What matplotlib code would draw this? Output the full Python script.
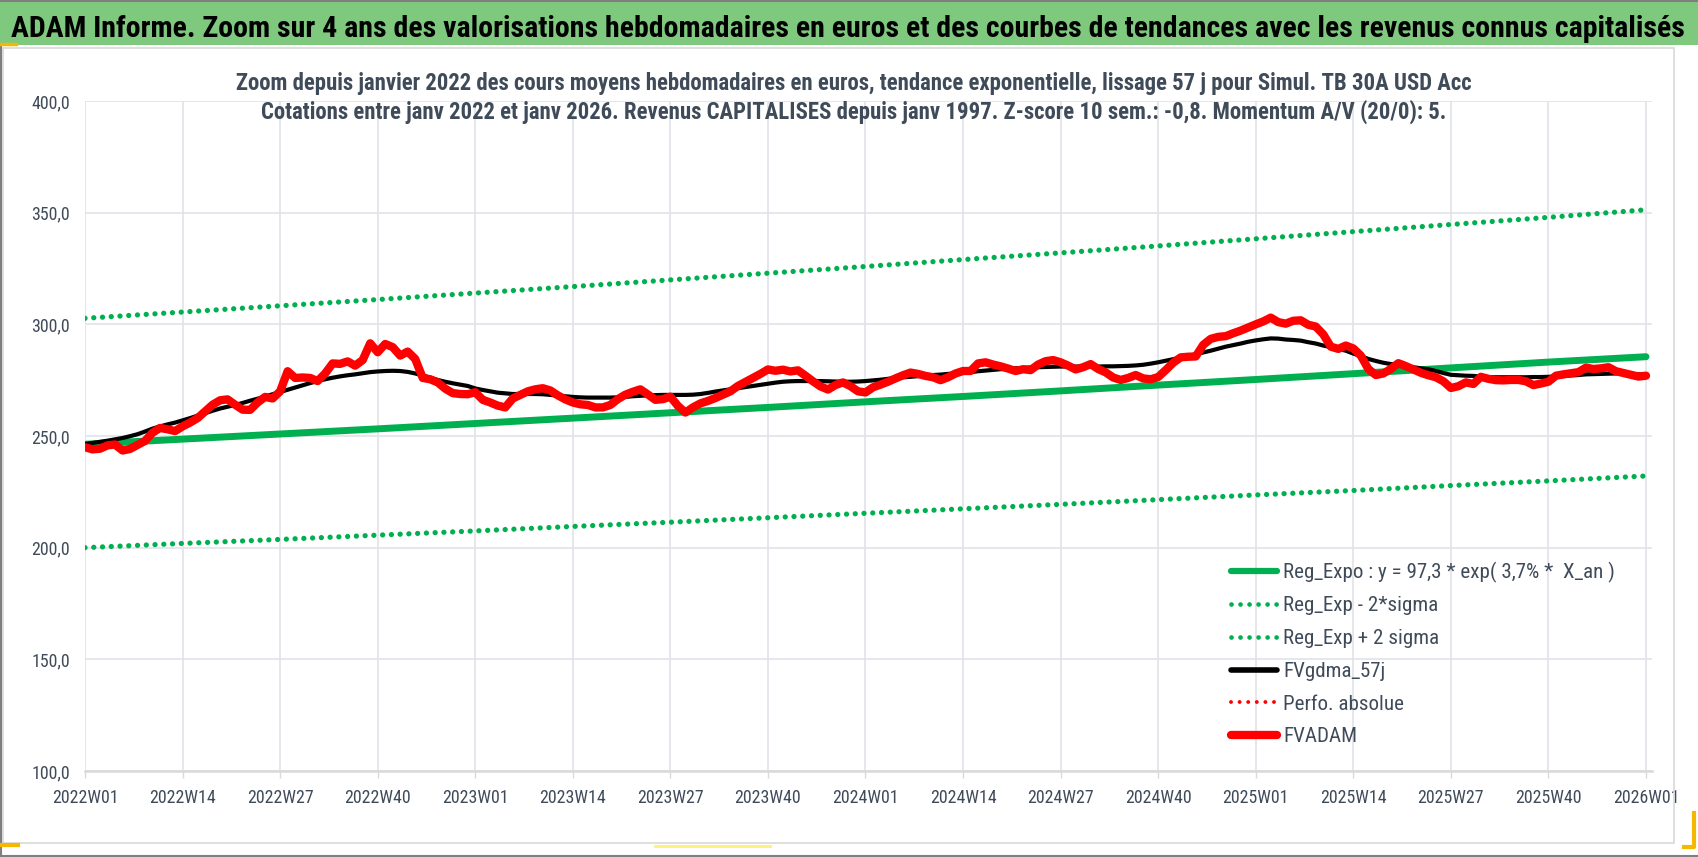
import numpy as np
import matplotlib
matplotlib.use('Agg')
import matplotlib.pyplot as plt
from matplotlib import font_manager as fm
from matplotlib.lines import Line2D
from matplotlib.patches import Rectangle

# data: weekly values, one row = 13 weeks (one tick step)
fvadam = [
    245.0, 244.0, 244.3, 245.8, 246.2, 243.5, 244.2, 246.0, 247.8, 251.5, 253.6, 253.0, 252.2,
    254.3, 256.0, 258.0, 261.0, 264.0, 266.0, 266.4, 264.0, 261.8, 261.7, 265.0, 267.5, 266.8,
    270.0, 279.0, 276.0, 276.2, 276.0, 274.6, 278.0, 282.5, 282.3, 283.4, 281.5, 284.0, 291.5,
    287.5, 291.2, 289.8, 286.0, 287.8, 284.5, 276.0, 275.4, 274.0, 271.2, 269.2, 268.8, 268.7,
    269.6, 266.2, 265.0, 263.6, 262.8, 266.8, 268.4, 270.0, 270.9, 271.4, 270.4, 268.2, 266.4,
    265.0, 264.2, 263.9, 262.8, 262.8, 263.9, 266.5, 268.5, 269.8, 270.9, 268.6, 266.2, 266.5,
    267.6, 263.5, 260.5, 262.8, 264.6, 265.7, 267.0, 268.5, 270.0, 272.4, 274.2, 276.0, 277.8,
    279.8, 279.2, 279.7, 278.9, 279.4, 277.0, 274.5, 272.2, 270.8, 272.8, 274.0, 272.3, 270.0,
    269.5, 271.8, 273.0, 274.3, 275.8, 277.2, 278.4, 277.8, 276.9, 276.3, 275.0, 276.3, 278.0,
    279.1, 279.1, 282.5, 283.0, 282.0, 281.2, 280.2, 279.1, 279.9, 279.5, 282.0, 283.5, 284.0,
    283.0, 281.5, 279.8, 280.8, 282.2, 280.0, 278.5, 276.2, 275.1, 276.0, 277.3, 275.8, 275.4,
    276.4, 279.5, 282.8, 285.2, 285.5, 285.6, 290.8, 293.5, 294.4, 294.7, 296.0, 297.2, 298.6,
    300.0, 301.3, 303.0, 301.0, 300.3, 301.6, 301.8, 299.8, 299.0, 295.5, 290.0, 289.0, 290.5,
    289.2, 286.0, 280.0, 277.3, 278.0, 280.0, 282.6, 281.3, 279.8, 278.3, 277.2, 276.3, 274.5,
    271.5, 272.3, 274.0, 273.3, 276.5, 275.6, 275.0, 274.9, 275.1, 275.1, 274.5, 272.8, 273.5,
    274.3, 277.0, 277.6, 278.1, 278.6, 280.6, 280.0, 280.3, 280.8, 279.0, 278.2, 277.4, 276.6,
    277.0,
]

fvgdma_57j = [
    246.4, 246.9, 247.4, 247.9, 248.5, 249.1, 249.9, 250.8, 252.0, 253.3, 254.3, 255.2, 256.0,
    257.0, 258.0, 259.1, 260.2, 261.3, 262.3, 263.1, 263.9, 264.8, 265.8, 266.7, 267.7, 268.7,
    269.7, 270.7, 271.7, 272.7, 273.7, 274.6, 275.4, 276.1, 276.7, 277.2, 277.6, 278.1, 278.6,
    278.9, 279.1, 279.2, 279.1, 278.7, 278.0, 277.1, 276.1, 275.1, 274.3, 273.6, 273.0, 272.4,
    271.3, 270.6, 270.0, 269.4, 269.1, 268.8, 268.8, 268.8, 268.8, 268.7, 268.4, 268.1, 267.8,
    267.5, 267.3, 267.2, 267.2, 267.2, 267.2, 267.3, 267.5, 267.8, 268.0, 268.2, 268.3, 268.4,
    268.4, 268.4, 268.4, 268.5, 268.8, 269.3, 269.9, 270.4, 270.9, 271.4, 271.9, 272.4, 272.9,
    273.4, 273.9, 274.3, 274.5, 274.6, 274.6, 274.6, 274.6, 274.5, 274.4, 274.3, 274.3, 274.4,
    274.6, 274.9, 275.2, 275.6, 276.0, 276.3, 276.5, 276.8, 277.1, 277.3, 277.5, 277.8, 278.0,
    278.3, 278.6, 279.0, 279.3, 279.6, 279.9, 280.1, 280.3, 280.5, 280.7, 280.8, 280.9, 281.0,
    281.1, 281.1, 281.1, 281.1, 281.1, 281.1, 281.2, 281.2, 281.3, 281.4, 281.6, 281.9, 282.4,
    283.0, 283.7, 284.4, 285.1, 285.9, 286.6, 287.4, 288.2, 289.1, 290.0, 290.7, 291.4, 292.2,
    292.8, 293.3, 293.7, 293.6, 293.2, 293.0, 292.7, 292.0, 291.4, 290.5, 289.8, 289.0, 288.2,
    286.9, 285.8, 284.5, 283.6, 282.8, 282.2, 281.8, 281.3, 280.8, 280.3, 279.9, 279.1, 278.2,
    277.4, 277.2, 277.0, 276.9, 276.6, 276.3, 276.3, 276.3, 276.3, 276.3, 276.3, 276.4, 276.4,
    276.5, 276.6, 276.8, 277.1, 277.3, 277.6, 277.7, 277.8, 277.9, 278.0, 278.1, 277.9, 277.6,
    277.4,
]

# trend lines, read at each tick (every 13 weeks)
reg_expo = [246.3, 248.6, 250.9, 253.2, 255.6, 258.0, 260.4, 262.8, 265.3,
            267.7, 270.2, 272.8, 275.3, 277.9, 280.5, 283.1, 285.5]
reg_minus = [200.0, 201.9, 203.7, 205.6, 207.5, 209.5, 211.4, 213.4, 215.4,
             217.4, 219.4, 221.5, 223.6, 225.6, 227.8, 229.9, 232.1]
reg_plus = [302.7, 305.5, 308.3, 311.1, 314.0, 316.9, 319.9, 322.9, 325.9,
            329.0, 332.0, 335.1, 338.3, 341.5, 344.7, 347.9, 351.3]

tick_labels = ['2022W01', '2022W14', '2022W27', '2022W40', '2023W01', '2023W14',
               '2023W27', '2023W40', '2024W01', '2024W14', '2024W27', '2024W40',
               '2025W01', '2025W14', '2025W27', '2025W40', '2026W01']
yticks = [100, 150, 200, 250, 300, 350, 400]

title = ("ADAM Informe. Zoom sur 4 ans des valorisations hebdomadaires en euros "
         "et des courbes de tendances avec les revenus connus capitalisés")
sub1 = ("Zoom depuis janvier 2022 des cours moyens hebdomadaires en euros, tendance "
        "exponentielle, lissage 57 j pour Simul. TB 30A USD Acc")
sub2 = ("Cotations entre janv 2022 et janv 2026. Revenus CAPITALISES depuis janv 1997. "
        "Z-score 10 sem.: -0,8. Momentum A/V (20/0): 5.")
legend_labels = ['Reg_Expo : y = 97,3 * exp( 3,7% *  X_an )', 'Reg_Exp - 2*sigma',
                 'Reg_Exp + 2 sigma', 'FVgdma_57j', 'Perfo. absolue', 'FVADAM']

# pick a narrow font (Calibri look-alike) if there is one
names = {f.name for f in fm.fontManager.ttflist}
FONT = 'DejaVu Sans'
for cand in ['Liberation Sans Narrow', 'Roboto Condensed', 'Open Sans Condensed',
             'DejaVu Sans Condensed', 'Liberation Sans']:
    if cand in names:
        FONT = cand
        break

W, H = 1698, 857
fig = plt.figure(figsize=(W / 100, H / 100), dpi=100)
renderer = fig.canvas.get_renderer()

def fx(x):
    return x / W

def fy(y):
    return 1 - y / H

def fit_size(txt, target, weight='normal'):
    t = fig.text(0, 0, txt, fontsize=10, family=FONT, weight=weight)
    w = t.get_window_extent(renderer).width
    t.remove()
    return 10 * target / w

GREEN = '#00B050'
TXT = '#404B5A'
GRID = '#E0E3EA'

# frame / banner decoration
fig.patches.append(Rectangle((0, fy(45)), 1, fy(2) - fy(45), transform=fig.transFigure,
                             facecolor='#7FC97F', edgecolor='none', zorder=0))
fig.patches.append(Rectangle((fx(3), fy(843)), fx(1674) - fx(3), fy(48) - fy(843),
                             transform=fig.transFigure, facecolor='none',
                             edgecolor='#D9D9D9', lw=1.2, zorder=0))
fig.add_artist(Line2D([0, 1], [fy(0.5), fy(0.5)], color='#7F7F7F', lw=1.5))
fig.add_artist(Line2D([fx(1), fx(1)], [fy(47), fy(856)], color='#7F7F7F', lw=1.5))
fig.add_artist(Line2D([0, 1], [fy(856), fy(856)], color='#7F7F7F', lw=1.5))
fig.add_artist(Line2D([0, fx(16)], [fy(44), fy(44)], color='#F5B800', lw=2.5))
fig.add_artist(Line2D([0, fx(18)], [fy(845), fy(845)], color='#F5B800', lw=3))
fig.add_artist(Line2D([fx(655), fx(770)], [fy(846), fy(846)], color='#FFF176', lw=2))
fig.add_artist(Line2D([fx(1694), fx(1694), fx(1684)], [fy(813), fy(847), fy(847)],
                      color='#F5B800', lw=3))

# titles
fs_t = fit_size(title, 1674, 'bold')
fig.text(fx(11), fy(37), title, fontsize=fs_t, family=FONT, weight='bold',
         color='black', va='baseline', ha='left')
fs_s = fit_size(sub1, 1237, 'bold')
fig.text(fx(854), fy(90), sub1, fontsize=fs_s, family=FONT, weight='bold',
         color=TXT, va='baseline', ha='center')
fig.text(fx(854), fy(119), sub2, fontsize=fs_s, family=FONT, weight='bold',
         color=TXT, va='baseline', ha='center')

fs_tick = fit_size('2022W01', 66)
fs_leg = fit_size(legend_labels[0], 330)

# plot area
ax = fig.add_axes([fx(85), fy(771), fx(1652) - fx(85), fy(101) - fy(771)])
x = np.arange(len(fvadam))
xt = np.arange(0, len(fvadam), 13)

dots = (0, (0.01, 1.65))
ax.plot(xt, reg_minus, color=GREEN, lw=3.8, linestyle=dots, dash_capstyle='round')
ax.plot(xt, reg_plus, color=GREEN, lw=3.8, linestyle=dots, dash_capstyle='round')
ax.plot(xt, reg_expo, color=GREEN, lw=5, solid_capstyle='round')
ax.plot(x, fvgdma_57j, color='black', lw=3.0, solid_capstyle='round')
ax.plot(x, fvadam, color='#FF0000', lw=6.0, solid_capstyle='round',
        solid_joinstyle='round')

ax.set_xlim(0, 208.8)
ax.set_ylim(100, 400)
ax.set_xticks(xt)
ax.set_xticklabels(tick_labels)
ax.set_yticks(yticks)
ax.set_yticklabels([f'{v:.1f}'.replace('.', ',') for v in yticks])
ax.grid(True, color=GRID, lw=1.2)
ax.set_axisbelow(True)
for s in ['top', 'right', 'left']:
    ax.spines[s].set_visible(False)
ax.spines['bottom'].set_color('#D9D9D9')
ax.spines['bottom'].set_linewidth(1.8)
ax.tick_params(axis='y', length=0, pad=11, labelsize=fs_tick, labelcolor=TXT)
ax.tick_params(axis='x', length=5, width=1, color='#D9D9D9', pad=8,
               labelsize=fs_tick, labelcolor=TXT)
for lab in ax.get_xticklabels() + ax.get_yticklabels():
    lab.set_family(FONT)

# legend (no frame, bottom right)
handles = [
    Line2D([], [], color=GREEN, lw=4.5, solid_capstyle='round'),
    Line2D([], [], color=GREEN, lw=3.4, linestyle=(0, (0.01, 1.9)), dash_capstyle='round'),
    Line2D([], [], color=GREEN, lw=3.4, linestyle=(0, (0.01, 1.9)), dash_capstyle='round'),
    Line2D([], [], color='black', lw=4.0, solid_capstyle='round'),
    Line2D([], [], color='#FF0000', lw=2.8, linestyle=(0, (0.01, 2.2)), dash_capstyle='round'),
    Line2D([], [], color='#FF0000', lw=6, solid_capstyle='round'),
]
fs_leg_px = fs_leg * 100 / 72

def make_legend(ls, anchor_y):
    lg = fig.legend(handles, legend_labels, loc='upper left',
                    bbox_to_anchor=(fx(1231), anchor_y), frameon=False,
                    prop={'family': FONT, 'size': fs_leg},
                    handlelength=46 / fs_leg_px, handletextpad=6 / fs_leg_px,
                    labelspacing=ls, borderpad=0, borderaxespad=0)
    for t in lg.get_texts():
        t.set_color(TXT)
    return lg

ls = 0.6
leg = make_legend(ls, fy(556))
fig.canvas.draw()
ext = [t.get_window_extent(renderer) for t in leg.get_texts()]
pitch = ((ext[0].y0 + ext[0].y1) - (ext[-1].y0 + ext[-1].y1)) / 2 / 5
ls = ls + (33 - pitch) / fs_leg_px
leg.remove()
leg = make_legend(ls, fy(556))
fig.canvas.draw()
e0 = leg.get_texts()[0].get_window_extent(renderer)
cy = H - (e0.y0 + e0.y1) / 2  # center of first row, from top
leg.remove()
leg = make_legend(ls, fy(556 + (572 - cy)))

fig.savefig('out.png', dpi=100, facecolor='white')
